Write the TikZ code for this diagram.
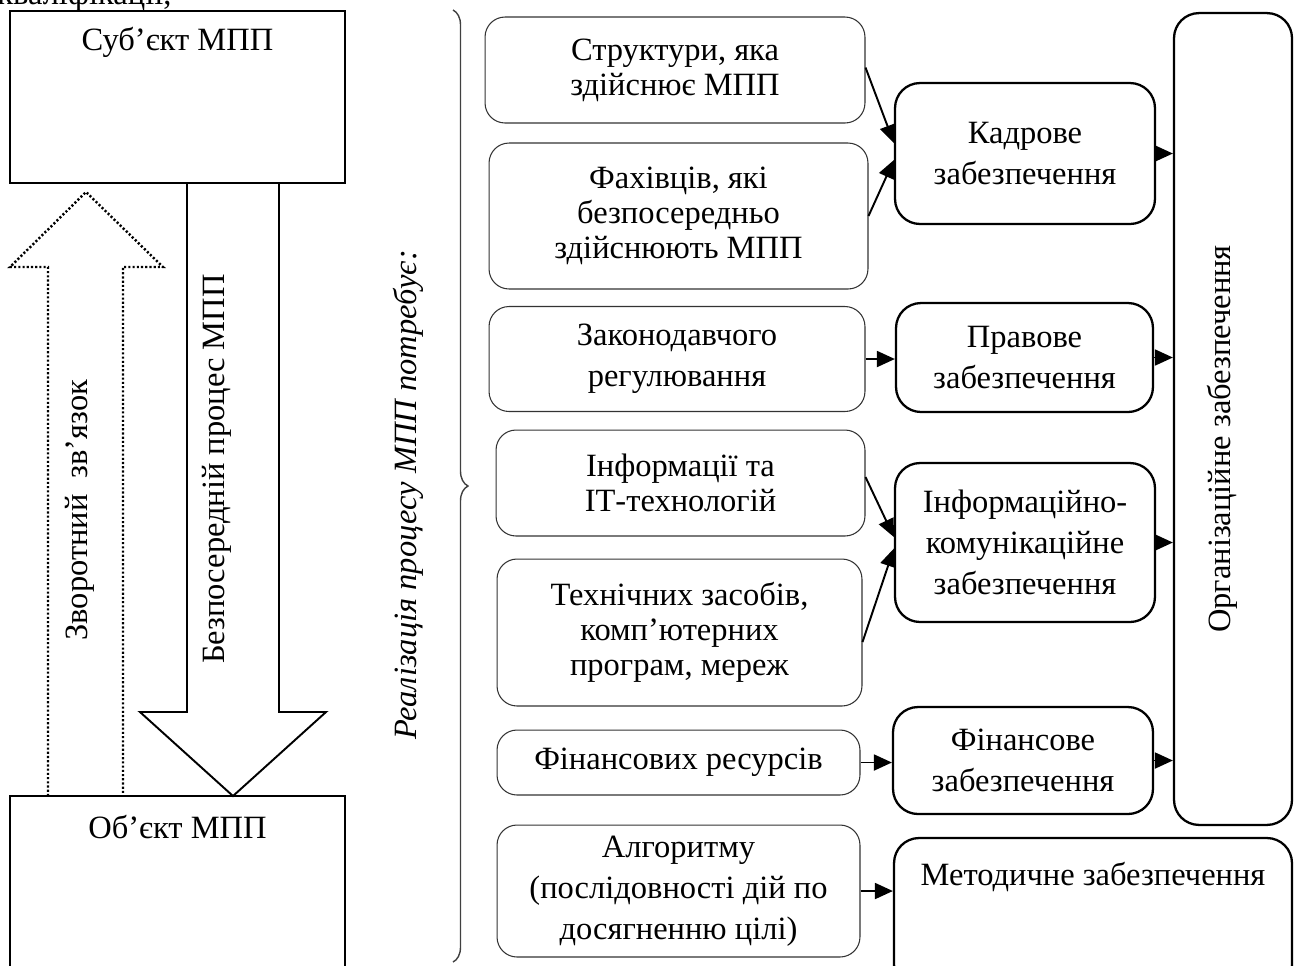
\documentclass[tikz,border=0pt]{standalone}
\usepackage{fontspec}
\setmainfont{Liberation Serif}
\usetikzlibrary{positioning,calc,arrows.meta,decorations.pathreplacing}

\begin{document}
\begin{tikzpicture}[
    x=0.02cm, y=-0.02cm,
    font=\fontsize{18.5}{23.3}\selectfont,
    tight/.style={font=\fontsize{18.5}{20}\selectfont},
    mainbox/.style={draw, line width=1.1pt, minimum width=6.7cm, inner sep=0pt},
    needbox/.style={draw=black!80, line width=0.6pt, rounded corners=0.4cm, align=center, inner sep=2pt},
    supbox/.style={draw, line width=1.3pt, rounded corners=0.5cm, align=center, inner sep=2pt},
    link/.style={line width=1.1pt, -{Triangle[length=0.36cm, width=0.32cm]}},
    bigarrow/.style={line width=1.1pt, line join=miter}
]

\useasboundingbox (0,0) rectangle (1300,965);

% Cut-off line above the picture
\node[anchor=base west, inner sep=0pt] (cuttxt) at (-3,4.5) {кваліфікації,};

% Subject and object
\node[mainbox, minimum height=3.44cm] (subj) at (177.5,97) {};
\node (subjtxt) at (177.5,42) {Суб’єкт МПП};
\node[mainbox, minimum height=4.08cm] (obj) at (177.5,898) {};
\node (objtxt) at (177.5,827) {Об’єкт МПП};

% Big arrows between subject and object
\draw[bigarrow] (187,184) -- (187,712) -- (140,712) -- (233,796) -- (326,712) -- (279,712) -- (279,184);
\draw[bigarrow, line width=1.4pt, dash pattern=on 1.2pt off 1.2pt] (48,796) -- (48,267) -- (10,267) -- (86,192) -- (163,267) -- (123,267) -- (123,796);
\node[rotate=90] (backtxt) at (80,510) {Зворотний\ \ зв’язок};
\node[rotate=90] (directtxt) at (217,469) {Безпосередній процес МПП};

% Brace with its caption
\node[rotate=90, font=\fontsize{18.5}{23.3}\selectfont\itshape] (needtxt) at (408,495) {Реалізація процесу МПП потребує:};
\draw[decorate, decoration={brace, amplitude=0.3cm}, line width=0.8pt, black!75] (453,10) -- (453,962);

% What the process needs
\node[needbox, tight, minimum width=7.6cm, minimum height=2.12cm] (struct) at (675,70) {Структури, яка\\здійснює МПП};
\node[needbox, tight, minimum width=7.58cm, minimum height=2.92cm] (fakh) at (678.5,216) {Фахівців, які\\безпосередньо\\здійснюють МПП};
\node[needbox, minimum width=7.52cm, minimum height=2.1cm] (zakon) at (677,359) {Законодавчого\\регулювання};
\node[needbox, tight, minimum width=7.38cm, minimum height=2.12cm] (inform) at (680.5,483) {Інформації та\\ІТ-технологій};
\node[needbox, tight, minimum width=7.3cm, minimum height=2.94cm] (tekhn) at (679.5,632.5) {Технічних засобів,\\комп’ютерних\\програм, мереж};
\node[needbox, minimum width=7.26cm, minimum height=1.3cm] (fin) at (678.5,762.5) {Фінансових ресурсів};
\node[needbox, minimum width=7.26cm, minimum height=2.64cm] (alg) at (678.5,891) {Алгоритму\\(послідовності дій по\\досягненню цілі)};

% Kinds of support
\node[supbox, minimum width=5.2cm, minimum height=2.82cm] (kadr) at (1025,153.5) {Кадрове\\забезпечення};
\node[supbox, minimum width=5.14cm, minimum height=2.18cm] (prav) at (1024.5,357.5) {Правове\\забезпечення};
\node[supbox, minimum width=5.2cm, minimum height=3.18cm] (ikt) at (1025,542.5) {Інформаційно-\\комунікаційне\\забезпечення};
\node[supbox, minimum width=5.2cm, minimum height=2.14cm] (finz) at (1023,760.5) {Фінансове\\забезпечення};
\node[supbox, minimum width=7.96cm, minimum height=3.04cm] (metod) at (1093,914) {};
\node (metodtxt) at (1093,877) {Методичне забезпечення};
\node[supbox, minimum width=2.36cm, minimum height=16.24cm] (org) at (1233,419) {};
\node[rotate=90] (orgtxt) at (1222,439) {Організаційне забезпечення};

% Links
\draw[link] ([yshift=0.05cm]struct.east) -- ([yshift=0.21cm]kadr.west);
\draw[link] (fakh.east) -- ([yshift=-0.13cm]kadr.west);
\draw[link] (zakon.east) -- (zakon.east -| prav.west);
\draw[link] ([yshift=0.12cm]inform.east) -- ([yshift=0.11cm]ikt.west);
\draw[link] ([yshift=-0.19cm]tekhn.east) -- ([yshift=-0.12cm]ikt.west);
\draw[link] (fin.east) -- (fin.east -| finz.west);
\draw[link] (alg.east) -- (alg.east -| metod.west);
\draw[link] (kadr.east) -- (kadr.east -| org.west);
\draw[link] (prav.east) -- (prav.east -| org.west);
\draw[link] (ikt.east) -- (ikt.east -| org.west);
\draw[link] (finz.east) -- (finz.east -| org.west);

\end{tikzpicture}
\end{document}
